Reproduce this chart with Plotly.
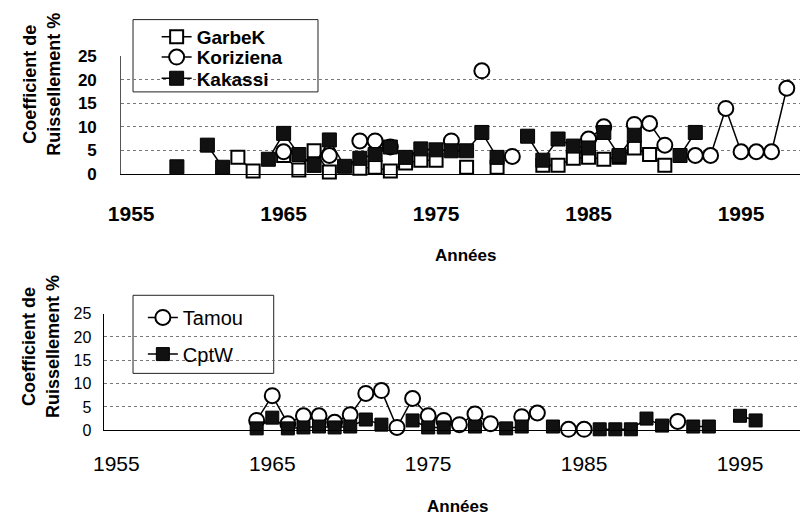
import plotly.graph_objects as go

W, H = 804, 527

# ---------------- data ----------------
garbek_years = [1962, 1963, 1964, 1965, 1966, 1967, 1968, 1969, 1970, 1971, 1972, 1973, 1974, 1975, 1976, 1977,
                1978, 1979, 1980, 1981, 1982, 1983, 1984, 1985, 1986, 1987, 1988, 1989, 1990]
garbek_vals = [3.5, 0.6, None, 3.9, 0.8, 4.9, 0.4, None, 1.2, 1.4, 0.6, 2.3, 2.9, 2.9, None, 1.4,
               None, 1.4, None, None, 1.8, 1.8, 3.3, 3.5, 3.1, 3.5, 5.5, 4.1, 1.8]

koriz_years = [1965, 1966, 1967, 1968, 1969, 1970, 1971, 1972, 1973, 1974, 1975, 1976, 1977, 1978, 1979, 1980,
               1981, 1982, 1983, 1984, 1985, 1986, 1987, 1988, 1989, 1990, 1991, 1992, 1993, 1994, 1995,
               1996, 1997, 1998]
koriz_vals = [4.7, None, None, 3.9, None, 7.0, 7.0, 5.7, None, None, None, 7.0, None, 21.9, None, 3.7,
              None, None, None, None, 7.4, 10.0, None, 10.5, 10.7, 6.1, None, 3.9, 3.9, 13.9, 4.7,
              4.7, 4.7, 18.2]

kakassi_years = [1958, 1959, 1960, 1961, 1962, 1963, 1964, 1965, 1966, 1967, 1968, 1969, 1970, 1971, 1972, 1973,
                 1974, 1975, 1976, 1977, 1978, 1979, 1980, 1981, 1982, 1983, 1984, 1985, 1986, 1987, 1988,
                 1989, 1990, 1991, 1992]
kakassi_vals = [1.5, None, 6.1, 1.4, None, None, 3.1, 8.6, 4.1, 1.8, 7.2, 1.6, 3.3, 4.1, 5.7, 3.5,
                5.3, 5.1, 4.9, 4.9, 8.8, 3.5, None, 8.0, 2.9, 7.4, 5.9, 5.5, 8.8, 3.9, 8.2,
                None, None, 3.9, 8.8]

tamou_years = [1964, 1965, 1966, 1967, 1968, 1969, 1970, 1971, 1972, 1973, 1974, 1975, 1976, 1977, 1978, 1979,
               1980, 1981, 1982, 1983, 1984, 1985, 1986, 1987, 1988, 1989, 1990, 1991]
tamou_vals = [2.1, 7.4, 1.4, 3.1, 3.1, 1.7, 3.3, 7.9, 8.5, 0.6, 6.8, 3.1, 2.1, 1.2, 3.5, 1.4,
              None, 2.9, 3.7, None, 0.2, 0.2, None, None, None, None, None, 1.9]

cptw_years = [1964, 1965, 1966, 1967, 1968, 1969, 1970, 1971, 1972, 1973, 1974, 1975, 1976, 1977, 1978, 1979,
              1980, 1981, 1982, 1983, 1984, 1985, 1986, 1987, 1988, 1989, 1990, 1991, 1992, 1993, 1994,
              1995, 1996]
cptw_vals = [0.4, 2.7, 0.4, 0.6, 0.8, 0.6, 0.8, 2.3, 1.2, None, 2.1, 0.6, 0.6, None, 0.8, None,
             0.4, 0.8, None, 0.8, None, None, 0.2, 0.2, 0.2, 2.5, 1.0, None, 0.8, 0.8, None,
             3.1, 2.1]

x_ticks = [1955, 1965, 1975, 1985, 1995]
y_ticks = [0, 5, 10, 15, 20, 25]

FONT = "Liberation Sans, Arial, sans-serif"


def px_x(p):
    return p / W


def px_y(p):
    return 1 - p / H


fig = go.Figure()

line_style = dict(color="black", width=1.5)
MS = 14

fig.add_trace(go.Scatter(x=garbek_years, y=garbek_vals, name="GarbeK", mode="lines+markers",
                         line=line_style, connectgaps=False, cliponaxis=False,
                         marker=dict(symbol="square", size=MS - 1, color="white",
                                     line=dict(color="black", width=2)),
                         xaxis="x", yaxis="y", legend="legend"))
fig.add_trace(go.Scatter(x=koriz_years, y=koriz_vals, name="Koriziena", mode="lines+markers",
                         line=line_style, connectgaps=False, cliponaxis=False,
                         marker=dict(symbol="circle", size=MS + 1, color="white",
                                     line=dict(color="black", width=2)),
                         xaxis="x", yaxis="y", legend="legend3"))
fig.add_trace(go.Scatter(x=kakassi_years, y=kakassi_vals, name="Kakassi", mode="lines+markers",
                         line=line_style, connectgaps=False, cliponaxis=False,
                         marker=dict(symbol="square", size=MS, color="#111111",
                                     line=dict(color="black", width=1)),
                         xaxis="x", yaxis="y", legend="legend4"))

fig.add_trace(go.Scatter(x=tamou_years, y=tamou_vals, name="Tamou", mode="lines+markers",
                         line=line_style, connectgaps=False, cliponaxis=False,
                         marker=dict(symbol="circle", size=MS + 1, color="white",
                                     line=dict(color="black", width=2)),
                         xaxis="x2", yaxis="y2", legend="legend2"))
fig.add_trace(go.Scatter(x=cptw_years, y=cptw_vals, name="CptW", mode="lines+markers",
                         line=line_style, connectgaps=False, cliponaxis=False,
                         marker=dict(symbol="square", size=MS - 1, color="#111111",
                                     line=dict(color="black", width=1)),
                         xaxis="x2", yaxis="y2", legend="legend5"))

grid = dict(showgrid=True, gridcolor="#777777", griddash="dot", gridwidth=1)


def one_legend(xpx, ypx, size, bold):
    f = dict(family=FONT, size=size, color="black")
    if bold:
        f["weight"] = "bold"
    return dict(x=px_x(xpx), y=px_y(ypx), xanchor="left", yanchor="middle",
                bgcolor="rgba(0,0,0,0)", borderwidth=0, font=f, itemwidth=30)


fig.update_layout(
    width=W, height=H, autosize=False,
    margin=dict(l=0, r=0, t=0, b=0),
    paper_bgcolor="white", plot_bgcolor="white",
    font=dict(family=FONT, color="black"),
    showlegend=True,
    xaxis=dict(domain=[px_x(110), px_x(800)], range=[1954.35, 1998.87],
               tickvals=x_ticks, ticktext=[str(t) for t in x_ticks],
               showgrid=False, zeroline=False, showline=True, linecolor="black", linewidth=1,
               ticks="", ticklabelstandoff=21,
               tickfont=dict(family=FONT, size=21, weight="bold", color="black"),
               anchor="y"),
    yaxis=dict(domain=[px_y(171), px_y(49)], range=[0, 25], tickvals=y_ticks,
               zeroline=False, showline=True, linecolor="#555555", linewidth=1,
               ticks="", ticklabelstandoff=20,
               tickfont=dict(family=FONT, size=17, weight="bold", color="black"),
               anchor="x", **grid),
    xaxis2=dict(domain=[px_x(93), px_x(800)], range=[1954.24, 1998.85],
                tickvals=x_ticks, ticktext=[str(t) for t in x_ticks],
                showgrid=False, zeroline=False, showline=True, linecolor="black", linewidth=1,
                ticks="", ticklabelstandoff=15,
                tickfont=dict(family=FONT, size=21, color="black"),
                anchor="y2"),
    yaxis2=dict(domain=[px_y(437), px_y(316)], range=[0, 25], tickvals=y_ticks,
                zeroline=False, showline=True, linecolor="black", linewidth=1,
                ticks="", ticklabelstandoff=9,
                tickfont=dict(family=FONT, size=16, color="black"),
                anchor="x2", **grid),
    legend=one_legend(146, 29, 19, True),
    legend3=one_legend(146, 50, 19, True),
    legend4=one_legend(146, 72, 19, True),
    legend2=one_legend(132, 320, 20, False),
    legend5=one_legend(132, 358, 20, False),
)

# legend frames
fig.add_shape(type="rect", xref="paper", yref="paper",
              x0=px_x(122), x1=px_x(310), y0=px_y(86), y1=px_y(11),
              line=dict(color="#222222", width=1), fillcolor="white", layer="below")
fig.add_shape(type="rect", xref="paper", yref="paper",
              x0=px_x(122), x1=px_x(265), y0=px_y(378), y1=px_y(297),
              line=dict(color="#222222", width=1), fillcolor="white", layer="below")

title_font = dict(family=FONT, size=18, weight="bold", color="black")
fig.add_annotation(text="Coefficient de<br>Ruissellement %", xref="paper", yref="paper",
                   x=px_x(29), y=px_y(78), textangle=-90, showarrow=False,
                   font=title_font, xanchor="center", yanchor="middle")
fig.add_annotation(text="Coefficient de<br>Ruissellement %", xref="paper", yref="paper",
                   x=px_x(28), y=px_y(350), textangle=-90, showarrow=False,
                   font=title_font, xanchor="center", yanchor="middle")
fig.add_annotation(text="Années", xref="paper", yref="paper", x=px_x(460), y=px_y(256),
                   showarrow=False, font=dict(family=FONT, size=17, weight="bold", color="black"),
                   xanchor="center", yanchor="middle")
fig.add_annotation(text="Années", xref="paper", yref="paper", x=px_x(452), y=px_y(516),
                   showarrow=False, font=dict(family=FONT, size=17, weight="bold", color="black"),
                   xanchor="center", yanchor="middle")

fig.write_html("out.html", config={"displayModeBar": False},
               post_script="document.body.style.margin='0px';")
